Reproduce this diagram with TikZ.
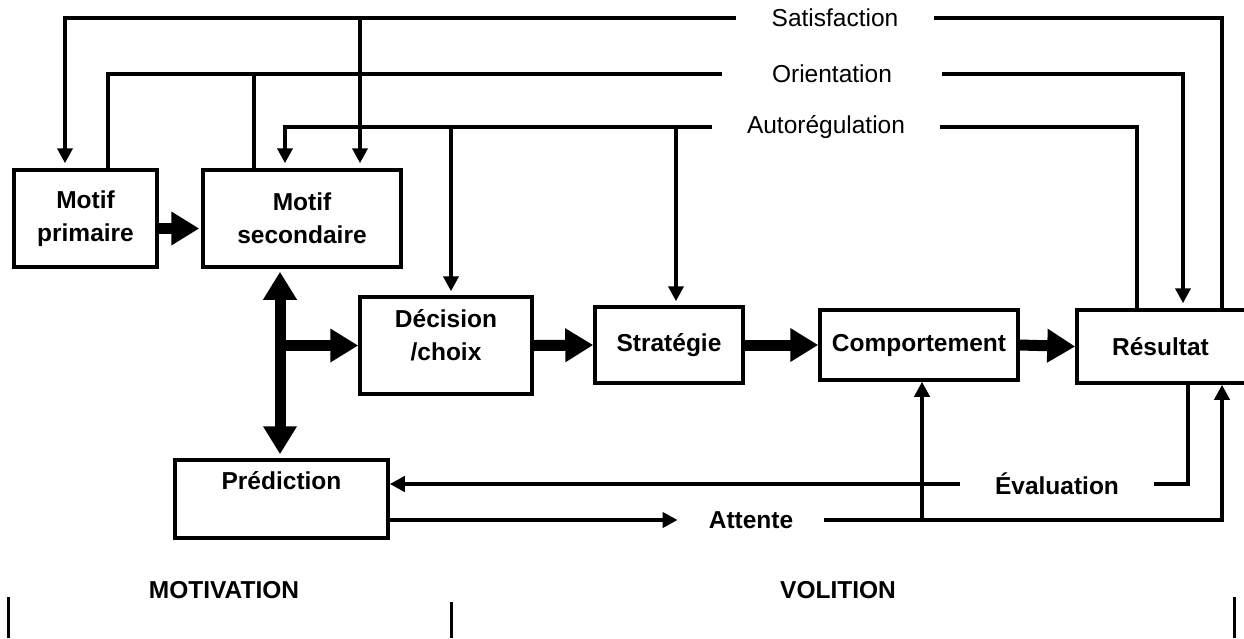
\documentclass[tikz,border=0pt]{standalone}
\usepackage{fontspec}
\setmainfont{Liberation Sans}
\usetikzlibrary{arrows.meta,positioning,calc}
\newcommand{\taille}{\fontsize{24.5}{33}\selectfont}

\begin{document}
\begin{tikzpicture}[x=1pt,y=-1pt]
	\tikzstyle{every node}+=[font=\taille]
	\tikzstyle{boite}=[draw, rectangle, line width=3.5pt, font=\taille\bfseries, align=center]
	\tikzstyle{titre}=[inner sep=0pt, font=\taille\bfseries, align=center]
	\tikzstyle{etiq}=[inner xsep=35pt, inner ysep=0pt]
	\tikzstyle{fil}=[line width=4pt]
	\tikzstyle{fleche}=[fil, -{Triangle[width=15pt,length=15pt]}]
	\tikzstyle{grosse}=[line width=11pt, -{Triangle[width=32pt,length=28pt]}]
	\tikzstyle{grosse2}=[line width=11pt, {Triangle[width=32pt,length=28pt]}-{Triangle[width=32pt,length=28pt]}]
	\useasboundingbox (0,0) rectangle (1244,638);
	% boites
	\node[boite, minimum width=143pt, minimum height=97pt] (prim) at (85.5,218.5) {Motif\\primaire};
	\node[boite, minimum width=198pt, minimum height=97pt] (sec) at (302,218.5) {Motif\\secondaire};
	\node[boite, minimum width=172pt, minimum height=97pt] (dec) at (446,345.5) {};
	\node[titre] (dec-t) at ([yshift=10pt]dec.center) {Décision\\/choix};
	\node[boite, minimum width=148pt, minimum height=76pt] (strat) at (669,345) {Stratégie};
	\node[boite, minimum width=198pt, minimum height=70pt] (comp) at (919,345) {Comportement};
	\node[boite, minimum width=175pt, minimum height=73pt] (res) at (1164.5,346.5) {};
	\node[titre] (res-t) at ([xshift=-4pt]res.center) {Résultat};
	\node[boite, minimum width=213pt, minimum height=78pt] (pred) at (281.5,499) {};
	\node[titre] (pred-t) at ([yshift=18pt]pred.center) {Prédiction};
	% etiquettes
	\node[etiq] (sat) at (835,18) {Satisfaction};
	\node[etiq, inner xsep=50pt] (ori) at (832,74) {Orientation};
	\node[etiq] (auto) at (826,127) {Autorégulation};
	\node[etiq, font=\taille\bfseries] (eval) at (1057,484) {Évaluation};
	\node[etiq, inner xsep=31pt, font=\taille\bfseries] (att) at (751,520) {Attente};
	% points de depart
	\coordinate (p1) at ([xshift=-20.5pt]prim.north);
	\coordinate (p2) at ([xshift=22.5pt]prim.north);
	\coordinate (s1) at ([xshift=-17pt]sec.north);
	\coordinate (s2) at ([xshift=-48pt]sec.north);
	\coordinate (s3) at ([xshift=58pt]sec.north);
	\coordinate (r1) at ([xshift=-27.5pt]res.north);
	\coordinate (r2) at ([xshift=18.5pt]res.north);
	\coordinate (r3) at ([xshift=57.5pt]res.north);
	\coordinate (r4) at ([xshift=23.5pt]res.south);
	\coordinate (r5) at ([xshift=57.5pt]res.south);
	\coordinate (v) at ([xshift=-22pt]sec.south);
	% satisfaction
	\draw[fil] (r3) |- (sat.east);
	\draw[fleche, shorten >=5pt] (sat.west) -| (p1);
	\draw[fleche, shorten >=5pt] (s3 |- sat.west) -- (s3);
	% orientation
	\draw[fleche, shorten >=5pt] (ori.east) -| (r2);
	\draw[fil] (p2) |- (ori.west);
	\draw[fil] (s2) -- (s2 |- ori.west);
	% autoregulation
	\draw[fil] (r1) |- (auto.east);
	\draw[fleche, shorten >=5pt] (auto.west) -| (s1);
	\draw[fleche, shorten >=4pt] ([xshift=5pt]dec.north |- auto.west) -- ([xshift=5pt]dec.north);
	\draw[fleche, shorten >=4pt] ([xshift=7pt]strat.north |- auto.west) -- ([xshift=7pt]strat.north);
	% grosses fleches
	\draw[grosse, shorten >=2pt] ([yshift=-10pt]prim.east) -- ([yshift=-10pt]sec.west);
	\draw[grosse2, shorten <=3pt, shorten >=4pt] (v) -- (v |- pred.north);
	\draw[grosse] (v |- dec.west) -- (dec.west);
	\draw[grosse] (dec.east) -- (strat.west);
	\draw[grosse] (strat.east) -- (comp.west);
	\draw[grosse] (comp.east) -- (res.west);
	% evaluation et attente
	\draw[fil] (r4) |- (eval.east);
	\draw[fleche] (eval.west) -- (eval.west -| pred.east);
	\draw[fleche] (pred.east |- att.west) -- (att.west);
	\draw[fleche] (att.east) -| (r5);
	\draw[fleche] ([xshift=3pt]comp.south |- att.east) -- ([xshift=3pt]comp.south);
	% motivation / volition
	\node[titre] (motiv) at (224,590) {MOTIVATION};
	\node[titre] (volit) at (838,590) {VOLITION};
	\draw[line width=3pt] (8,597) -- (8,638);
	\draw[line width=3pt] (451,602) -- (451,638);
	\draw[line width=3pt] (1234,597) -- (1234,638);
\end{tikzpicture}
\end{document}
